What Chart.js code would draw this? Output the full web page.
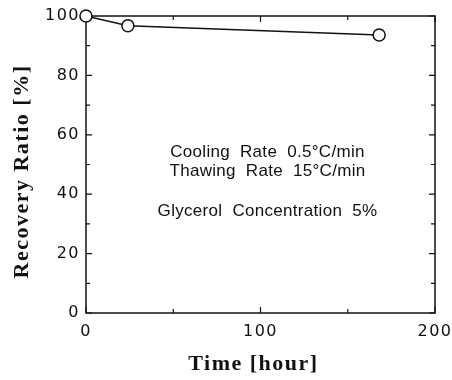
<!DOCTYPE html>
<html>
<head>
<meta charset="utf-8">
<script src="https://cdn.jsdelivr.net/npm/chart.js@4"></script>
<style>
  html, body { margin: 0; padding: 0; background: #fff; }
</style>
</head>
<body>
<canvas id="myChart" width="452" height="380"></canvas>
<script>
// data
const hours = [0, 24, 168];
const recovery = [100, 96.7, 93.6];

const xTicks = [0, 100, 200];
const xMinor = [50, 150];
const yTicks = [0, 20, 40, 60, 80, 100];
const yMinor = [10, 30, 50, 70, 90];

const notes = ["Cooling  Rate  0.5°C/min", "Thawing  Rate  15°C/min", "Glycerol  Concentration  5%"];
const noteX = 104;
const noteY = [54.2, 47.8, 34.3];

// the scanned figure has slightly spaced out lettering on the axes
const spacing = {
  id: 'spacing',
  beforeDraw(chart) { chart.ctx.letterSpacing = '1.5px'; },
  beforeDatasetsDraw(chart) { chart.ctx.letterSpacing = '0px'; }
};

// box round the plot, ticks pointing inwards on all four sides, and the text block
const frameTicks = {
  id: 'frameTicks',
  beforeDatasetsDraw(chart) {
    const { ctx, chartArea: a, scales: { x, y } } = chart;
    ctx.save();
    ctx.strokeStyle = '#111';
    ctx.lineWidth = 1.5;
    ctx.strokeRect(a.left, a.top, a.right - a.left, a.bottom - a.top);

    ctx.lineWidth = 1.2;
    ctx.beginPath();
    const xt = (v, len) => {
      const px = x.getPixelForValue(v);
      ctx.moveTo(px, a.bottom); ctx.lineTo(px, a.bottom - len);
      ctx.moveTo(px, a.top); ctx.lineTo(px, a.top + len);
    };
    const yt = (v, len) => {
      const py = y.getPixelForValue(v);
      ctx.moveTo(a.left, py); ctx.lineTo(a.left + len, py);
      ctx.moveTo(a.right, py); ctx.lineTo(a.right - len, py);
    };
    xTicks.forEach(v => xt(v, 6));
    xMinor.forEach(v => xt(v, 4));
    yTicks.forEach(v => yt(v, 6));
    yMinor.forEach(v => yt(v, 4));
    ctx.stroke();

    ctx.fillStyle = '#111';
    ctx.font = '17px "Liberation Sans", Arial, sans-serif';
    ctx.letterSpacing = '0.3px';
    ctx.textAlign = 'center';
    ctx.textBaseline = 'middle';
    notes.forEach((t, i) => {
      ctx.fillText(t, x.getPixelForValue(noteX), y.getPixelForValue(noteY[i]));
    });
    ctx.restore();
  }
};

const ctx = document.getElementById("myChart").getContext("2d");

new Chart(ctx, {
  type: 'scatter',
  data: {
    datasets: [{
      data: hours.map((h, i) => ({ x: h, y: recovery[i] })),
      showLine: true,
      borderColor: '#111',
      borderWidth: 1.4,
      pointRadius: 6,
      pointBackgroundColor: '#fff',
      pointBorderColor: '#111',
      pointBorderWidth: 1.5,
      clip: false
    }]
  },
  options: {
    responsive: false,
    animation: false,
    devicePixelRatio: 1,
    layout: { padding: { top: 16, right: 0, left: 0, bottom: 0 } },
    plugins: { legend: { display: false }, tooltip: { enabled: false } },
    scales: {
      x: {
        type: 'linear',
        min: 0,
        max: 200,
        afterBuildTicks: s => { s.ticks = xTicks.map(v => ({ value: v })); },
        afterFit: s => { s.height = 67; s.paddingLeft = 0; s.paddingRight = 17; },
        grid: { display: false, drawTicks: false },
        border: { display: false },
        ticks: {
          padding: 9,
          color: '#111',
          maxRotation: 0,
          font: { family: '"DejaVu Sans", sans-serif', size: 16 }
        },
        title: {
          display: true,
          text: 'Time [hour]  ',
          color: '#111',
          padding: { top: 0, bottom: 2 },
          font: { family: '"Liberation Serif", "Times New Roman", serif', size: 22, weight: 'bold' }
        }
      },
      y: {
        min: 0,
        max: 100,
        afterBuildTicks: s => { s.ticks = yTicks.map(v => ({ value: v })); },
        afterFit: s => { s.width = 86; },
        grid: { display: false, drawTicks: false },
        border: { display: false },
        ticks: {
          padding: 6,
          color: '#111',
          font: { family: '"DejaVu Sans", sans-serif', size: 16 }
        },
        title: {
          display: true,
          text: 'Recovery Ratio [%]  ',
          color: '#111',
          padding: { top: 9, bottom: 0 },
          font: { family: '"Liberation Serif", "Times New Roman", serif', size: 22, weight: 'bold' }
        }
      }
    }
  },
  plugins: [spacing, frameTicks]
});
</script>
</body>
</html>
